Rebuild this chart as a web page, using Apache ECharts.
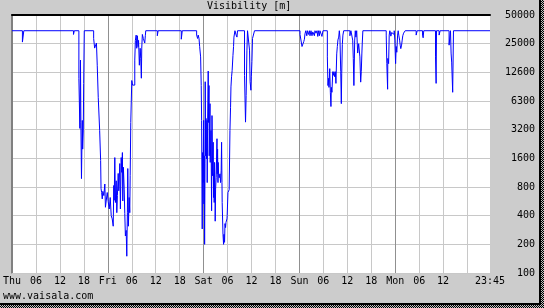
<!DOCTYPE html>
<html>
<head>
<meta charset="utf-8">
<script src="https://cdn.jsdelivr.net/npm/echarts@6/dist/echarts.min.js"></script>
<style>
html, body { margin: 0; padding: 0; background: #cccccc; }
#main { width: 544px; height: 308px; }
</style>
</head>
<body>
<div id="main"></div>
<script>
// hours since Thu 00:00, value holds until next entry (step)
var hours = [
    0, 2.6, 2.95, 15.4, 15.6, 16.75, 17.0, 17.15, 17.25, 17.4, 17.6, 17.7, 17.85, 17.95, 18.1, 20.45, 20.7, 21.15, 21.35, 21.6, 21.95, 22.2, 22.3, 22.45, 22.6, 22.75, 23.0, 23.25, 23.4, 23.65, 23.85,
    24.1, 24.35, 24.6, 24.85, 25.1, 25.35, 25.5, 25.6, 25.75, 25.9, 26.1, 26.25, 26.4, 26.6, 26.75, 27.0, 27.15, 27.35, 27.5, 27.65, 27.75, 27.9, 28.1, 28.25, 28.4, 28.6, 28.75, 28.9, 29.0, 29.15, 29.35, 29.5, 29.6, 29.75, 30.0, 30.2, 30.75, 30.9, 31.1, 31.25, 31.4, 31.6, 31.7, 31.9, 32.1, 32.25, 32.4, 32.5, 32.65, 32.9, 33.25, 33.4, 33.5, 36.4, 36.6, 42.4, 42.65,
    46.25, 46.5, 46.65, 46.85, 47.0, 47.25, 47.4, 47.5, 47.65, 47.75, 47.85, 47.9, 48.0, 48.1, 48.15, 48.25, 48.35, 48.4, 48.5, 48.6, 48.65, 48.75, 48.85, 48.9, 49.0, 49.15, 49.25, 49.35, 49.4, 49.6, 49.65, 49.85, 50.0, 50.1, 50.25, 50.4, 50.5, 50.6, 50.65, 50.75, 50.85, 50.9, 51.0, 51.15, 51.35, 51.4, 51.5, 51.6, 51.65, 51.75, 51.9, 52.1, 52.25, 52.4, 52.5, 52.6, 52.65, 52.85, 53.0, 53.1, 53.25, 53.35, 53.5, 53.6, 53.75, 53.85, 53.9, 54.1, 54.4, 54.6, 54.75, 54.85, 55.0, 55.15, 55.35, 55.5, 55.6, 55.85, 56.15, 56.35, 56.5, 58.25, 58.5, 58.65, 58.85, 59.0, 59.5, 59.65, 59.85, 59.95, 60.1, 60.25, 60.75,
    72.15, 72.4, 72.65, 73.0, 73.1, 73.25, 73.4, 73.6, 73.85, 74.0, 74.25, 74.5, 74.65, 74.9, 75.15, 75.35, 75.5, 75.75, 75.9, 76.15, 76.4, 76.6, 76.75, 77.0, 77.15, 77.65, 77.9, 79.0, 79.15, 79.35, 79.4, 79.6, 79.75, 79.9, 80.0, 80.15, 80.35, 80.5, 80.65, 80.85, 81.0, 81.15, 81.35, 81.5, 81.65, 81.85, 82.0, 82.15, 82.35, 82.5, 82.6, 82.75, 82.9, 83.1, 84.65, 84.9, 85.35, 85.5, 85.65, 85.85, 86.0, 86.15, 86.35, 86.6, 86.85, 87.0, 87.15, 87.35, 87.5, 87.65, 87.75, 87.9,
    93.75, 93.9, 94.1, 94.15, 94.35, 94.5, 94.65, 94.85, 94.9, 95.1, 95.25, 95.4, 95.75, 95.9, 96.1, 96.25, 96.4, 96.6, 96.75, 96.9, 97.1, 97.25, 97.4, 97.6, 97.75, 97.9, 98.1, 98.5, 101.25, 101.5, 102.85, 103.0, 103.15, 106.1, 106.25, 106.35, 107.0, 107.25, 109.5, 109.65, 109.85, 110.0, 110.15, 110.4, 110.6, 119.75
];
// visibility [m]
var visibility = [
    35000, 26600, 35000, 32000, 35000, 11000, 3300, 17200, 3800, 980, 4000, 2000, 3100, 9800, 35000, 29000, 23000, 26000, 15200, 7000, 3150, 1520, 770, 700, 600, 720, 650, 860, 490, 470, 700,
    560, 470, 620, 400, 370, 310, 830, 580, 1630, 550, 930, 430, 650, 1110, 730, 1410, 470, 1630, 1140, 1840, 570, 1290, 760, 420, 245, 280, 150, 430, 1250, 310, 620, 430, 1050, 3800, 10500, 9400, 17200, 27700, 31500, 22900, 31000, 23800, 27700, 15200, 22900, 17900, 11100, 23000, 32000, 29000, 26000, 31000, 35000, 31000, 35000, 28500, 35000,
    31500, 29000, 31500, 29000, 24000, 18600, 9300, 4000, 290, 1840, 890, 1400, 4000, 530, 1700, 200, 1400, 10200, 1700, 4200, 2090, 1580, 4000, 890, 3800, 13200, 3800, 9300, 1700, 6000, 1450, 3140, 450, 4500, 1050, 2360, 620, 1100, 550, 1450, 890, 350, 760, 1010, 2570, 1100, 2000, 890, 1450, 1100, 1000, 1100, 890, 1200, 2360, 890, 550, 255, 200, 255, 210, 330, 300, 340, 330, 370, 400, 700, 750, 3140, 5500, 9000, 11500, 13400, 19300, 23900, 30000, 35000, 31500, 30000, 35000, 11900, 3840, 7300, 21900, 35000, 21900, 10200, 8300, 11500, 16600, 29000, 35000,
    32000, 31500, 23900, 25000, 27000, 28500, 32500, 35000, 31000, 35000, 32000, 35000, 31000, 35000, 31000, 34000, 32500, 31000, 35000, 33000, 35000, 30500, 35000, 31000, 35000, 30500, 35000, 18600, 9300, 11100, 8900, 14000, 7900, 5600, 8900, 7900, 13000, 11900, 13000, 11500, 13000, 9800, 20000, 23900, 28000, 30000, 35000, 30000, 13000, 6000, 12500, 25000, 31500, 35000, 31000, 35000, 27900, 17900, 9300, 27900, 35000, 30000, 35000, 20400, 25600, 24500, 18600, 10100, 13000, 20400, 26000, 35000,
    31500, 15800, 8500, 17900, 15800, 31500, 35000, 32500, 30700, 33500, 35000, 32000, 35000, 27900, 15800, 23900, 20800, 31500, 35000, 31500, 27900, 24700, 22700, 24700, 27900, 31000, 33000, 35000, 31500, 35000, 31500, 29500, 35000, 18600, 9800, 35000, 31500, 35000, 24700, 24000, 35000, 20400, 16400, 7900, 35000, 35000
];

var xLabels = ["Thu", "06", "12", "18", "Fri", "06", "12", "18", "Sat", "06", "12", "18",
    "Sun", "06", "12", "18", "Mon", "06", "12", ""];
var xEndLabel = "23:45";
var xMax = 119.75;

var yTicks = [100, 200, 400, 800, 1600, 3200, 6400, 12800, 25600, 51200];
var yLabels = ["100", "200", "400", "800", "1600", "3200", "6300", "12600", "25000", "50000"];

var monoFont = "'DejaVu Sans Mono', monospace";

//右下角的网点阴影
function makeDither() {
    var c = document.createElement('canvas');
    c.width = 2;
    c.height = 2;
    var ctx = c.getContext('2d');
    ctx.fillStyle = '#c0c0c0';
    ctx.fillRect(0, 0, 2, 2);
    ctx.fillStyle = '#000000';
    ctx.fillRect(0, 0, 1, 1);
    ctx.fillRect(1, 1, 1, 1);
    return c;
}

var points = [];
for (var i = 0; i < hours.length; i++) {
    points.push([hours[i], visibility[i]]);
}

var dither = { image: makeDither(), repeat: 'repeat' };

var myChart = echarts.init(document.getElementById('main'));
var option = {
    animation: false,
    backgroundColor: '#cccccc',
    title: {
        text: 'Visibility [m]',
        left: 207,
        top: 1,
        padding: 0,
        textStyle: { fontFamily: monoFont, fontSize: 10, fontWeight: 'normal', color: '#000' }
    },
    graphic: [
        { type: 'rect', silent: true, z: -10, shape: { x: 541, y: 0, width: 3, height: 308 }, style: { fill: dither } },
        { type: 'rect', silent: true, z: -10, shape: { x: 0, y: 305, width: 544, height: 3 }, style: { fill: dither } },
        { type: 'rect', silent: true, z: -9, shape: { x: 539, y: 0, width: 2, height: 305 }, style: { fill: '#000' } },
        { type: 'rect', silent: true, z: -9, shape: { x: 0, y: 303, width: 541, height: 2 }, style: { fill: '#000' } },
        {
            type: 'text', silent: true, left: 3, top: 291,
            style: { text: 'www.vaisala.com', font: '10px ' + monoFont, fill: '#000' }
        }
    ],
    grid: {
        left: 10,
        right: 54,
        top: 15,
        bottom: 35,
        show: true,
        backgroundColor: '#ffffff',
        borderWidth: 0
    },
    xAxis: [
        {
            type: 'value',
            min: 0,
            max: xMax,
            interval: 6,
            position: 'bottom',
            axisLine: { show: true, lineStyle: { color: '#c8c8c8', width: 1 } },
            axisTick: { show: false },
            splitLine: {
                show: true,
                showMaxLine: false,
                lineStyle: { color: ['#909090', '#c8c8c8', '#c8c8c8', '#c8c8c8'], width: 1 }
            },
            axisLabel: {
                interval: 0,
                hideOverlap: false,
                showMinLabel: true,
                showMaxLabel: true,
                margin: 3,
                fontFamily: monoFont,
                fontSize: 10,
                color: '#000',
                formatter: function (value) {
                    if (Math.abs(value - xMax) < 1e-6) return xEndLabel;
                    var idx = Math.round(value / 6);
                    return xLabels[idx] || '';
                }
            }
        },
        {
            type: 'value',
            min: 0,
            max: xMax,
            position: 'top',
            axisLine: { show: true, onZero: false, lineStyle: { color: '#000', width: 2 } },
            axisTick: { show: false },
            axisLabel: { show: false },
            splitLine: { show: false }
        }
    ],
    yAxis: [
        {
            type: 'log',
            logBase: 2,
            min: 100,
            max: 51200,
            position: 'right',
            axisLine: { show: true, lineStyle: { color: '#c8c8c8', width: 1 } },
            axisTick: { show: false, customValues: yTicks },
            splitLine: { show: true, lineStyle: { color: '#c8c8c8', width: 1 } },
            axisLabel: {
                customValues: yTicks,
                align: 'right',
                margin: 45,
                fontFamily: monoFont,
                fontSize: 10,
                color: '#000',
                formatter: function (value) {
                    for (var k = 0; k < yTicks.length; k++) {
                        if (Math.abs(yTicks[k] - value) / yTicks[k] < 1e-3) return yLabels[k];
                    }
                    return '';
                }
            }
        },
        {
            type: 'value',
            position: 'left',
            axisLine: { show: true, onZero: false, lineStyle: { color: '#808080', width: 2 } },
            axisTick: { show: false },
            axisLabel: { show: false },
            splitLine: { show: false }
        }
    ],
    series: [
        {
            name: 'Visibility',
            type: 'line',
            xAxisIndex: 0,
            yAxisIndex: 0,
            step: 'end',
            showSymbol: false,
            clip: true,
            lineStyle: { color: '#0000ff', width: 1 },
            data: points
        }
    ]
};
myChart.setOption(option);
</script>
</body>
</html>
